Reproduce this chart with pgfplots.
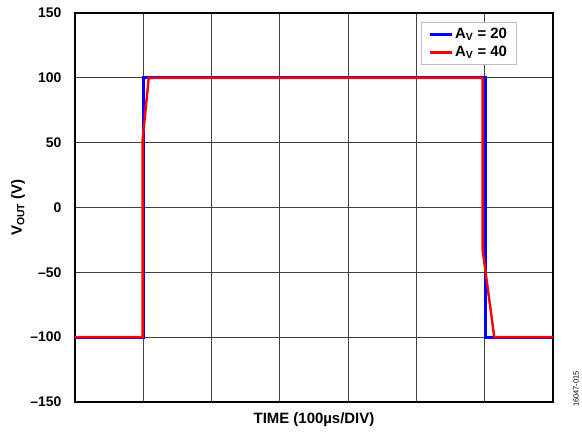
\documentclass[border=0pt]{standalone}
\usepackage{pgfplots}
\pgfplotsset{compat=1.18}
\usepackage{fontspec}
\setmainfont{Liberation Sans}
\begin{document}
\begin{tikzpicture}[x=1bp,y=1bp]
\begin{axis}[
  at={(75bp,34bp)}, anchor=south west,
  scale only axis, width=478bp, height=389bp,
  xmin=0, xmax=7, ymin=-150, ymax=150,
  xtick={0,1,2,3,4,5,6,7}, xticklabels={},
  ytick={-150,-100,-50,0,50,100,150},
  yticklabels={\textendash150,\textendash100,\textendash50,0,50,100,150},
  major tick length=0pt,
  grid=major,
  grid style={black!75, line width=0.8bp},
  axis line style={black, line width=1.3bp},
  tick label style={font=\fontsize{14}{16}\selectfont\bfseries},
  yticklabel style={anchor=east, xshift=-10bp},
  xlabel={\bfseries TIME (100\textmu s/DIV)},
  ylabel={\bfseries V\textsubscript{OUT} (V)},
  label style={font=\fontsize{15}{17}\selectfont},
  xlabel style={at={(axis description cs:0.5,-0.045)}, anchor=center},
  ylabel style={at={(axis description cs:-0.119,0.5)}, anchor=center},
  legend cell align=left,
  legend style={at={(0.923,0.977)}, anchor=north east, draw=black!25,
    font=\fontsize{15}{17}\selectfont\bfseries,
    inner xsep=7bp, inner ysep=4bp,
    row sep=2bp,
    nodes={inner ysep=2bp}},
  legend image code/.code={\draw[#1, line width=3bp] (0bp,0bp) -- (22bp,0bp);},
]
\addplot[blue, line width=2.8bp] coordinates {
  (0,-100) (1.0,-100) (1.0,100) (6.01,100) (6.01,-100) (7,-100)
};
\addlegendentry{A\textsubscript{V} = 20}
\addplot[red, line width=2.4bp] coordinates {
  (0,-100) (0.99,-100) (0.99,52) (1.08,100) (5.97,100) (5.97,-33) (6.14,-100) (7,-100)
};
\addlegendentry{A\textsubscript{V} = 40}
\end{axis}
\node[rotate=90, anchor=center, font=\fontsize{7.5}{8}\selectfont] at (576bp,47bp) {16047-015};
\path (0,0) rectangle (582bp,436bp);
\end{tikzpicture}
\end{document}
